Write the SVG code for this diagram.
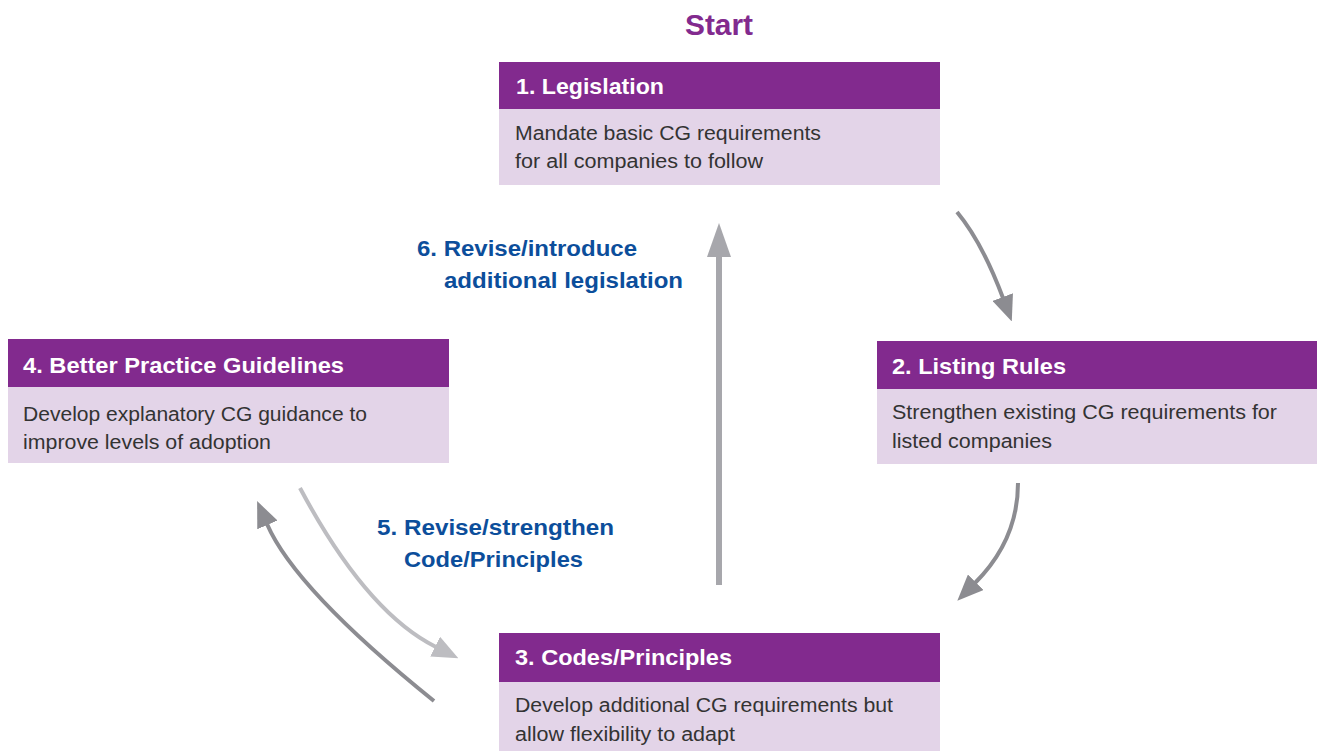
<svg xmlns="http://www.w3.org/2000/svg" width="1317" height="751" viewBox="0 0 1317 751">
<style>
.hd{fill:#822a8e}
.bd{fill:#e3d4e8}
.ht{font-family:"Liberation Sans",Arial,sans-serif;font-weight:bold;font-size:22px;fill:#ffffff}
.bt{font-family:"Liberation Sans",Arial,sans-serif;font-size:20px;fill:#333333}
.lb{font-family:"Liberation Sans",Arial,sans-serif;font-weight:bold;font-size:22px;fill:#0c4e9b}
.st{font-family:"Liberation Sans",Arial,sans-serif;font-weight:bold;font-size:29px;fill:#822a8e}
.dk{fill:none;stroke:#8c8c91;stroke-width:4}
.lt{fill:none;stroke:#bdbdc1;stroke-width:4}
.vt{fill:none;stroke:#a7a7ac;stroke-width:6}
</style>
<defs>
<marker id="ahd" markerUnits="userSpaceOnUse" viewBox="0 0 26 22" refX="1" refY="11" markerWidth="26" markerHeight="22" orient="auto"><path d="M0,0 L26,11 L0,22 z" fill="#8c8c91"/></marker>
<marker id="ahl" markerUnits="userSpaceOnUse" viewBox="0 0 26 22" refX="1" refY="11" markerWidth="26" markerHeight="22" orient="auto"><path d="M0,0 L26,11 L0,22 z" fill="#bdbdc1"/></marker>
<marker id="ahv" markerUnits="userSpaceOnUse" viewBox="0 0 34 24" refX="1" refY="12" markerWidth="34" markerHeight="24" orient="auto"><path d="M0,0 L34,12 L0,24 z" fill="#a7a7ac"/></marker>
</defs>
<rect width="1317" height="751" fill="#ffffff"/>
<text class="st" x="685" y="35" textLength="68" lengthAdjust="spacingAndGlyphs">Start</text>
<g id="connectors">
<path class="vt" d="M719,585 L719,256" marker-end="url(#ahv)"/>
<path class="dk" d="M957,212 Q982,242 1003,298" marker-end="url(#ahd)"/>
<path class="dk" d="M1018,483 Q1018,540 975,583" marker-end="url(#ahd)"/>
<path class="dk" d="M434,701 Q295,589 267,524" marker-end="url(#ahd)"/>
<path class="lt" d="M300,488 Q366,612 436,647" marker-end="url(#ahl)"/>
<text class="lb" x="417" y="256" textLength="220" lengthAdjust="spacingAndGlyphs">6. Revise/introduce</text>
<text class="lb" x="444" y="288" textLength="239" lengthAdjust="spacingAndGlyphs">additional legislation</text>
<text class="lb" x="377" y="535" textLength="237" lengthAdjust="spacingAndGlyphs">5. Revise/strengthen</text>
<text class="lb" x="404" y="567" textLength="179" lengthAdjust="spacingAndGlyphs">Code/Principles</text>
</g>
<g id="node1">
<rect class="bd" x="499" y="108" width="441" height="77"/>
<rect class="hd" x="499" y="62" width="441" height="47"/>
<text class="ht" x="516" y="94" textLength="148" lengthAdjust="spacingAndGlyphs">1. Legislation</text>
<text class="bt" x="515" y="140" textLength="306" lengthAdjust="spacingAndGlyphs">Mandate basic CG requirements</text>
<text class="bt" x="515" y="168" textLength="248" lengthAdjust="spacingAndGlyphs">for all companies to follow</text>
</g>
<g id="node2">
<rect class="bd" x="877" y="388" width="440" height="76"/>
<rect class="hd" x="877" y="341" width="440" height="48"/>
<text class="ht" x="892" y="374" textLength="174" lengthAdjust="spacingAndGlyphs">2. Listing Rules</text>
<text class="bt" x="892" y="419" textLength="385" lengthAdjust="spacingAndGlyphs">Strengthen existing CG requirements for</text>
<text class="bt" x="892" y="448" textLength="160" lengthAdjust="spacingAndGlyphs">listed companies</text>
</g>
<g id="node3">
<rect class="bd" x="499" y="682" width="441" height="69"/>
<rect class="hd" x="499" y="633" width="441" height="49"/>
<text class="ht" x="515" y="665" textLength="217" lengthAdjust="spacingAndGlyphs">3. Codes/Principles</text>
<text class="bt" x="515" y="712" textLength="378" lengthAdjust="spacingAndGlyphs">Develop additional CG requirements but</text>
<text class="bt" x="515" y="741" textLength="220" lengthAdjust="spacingAndGlyphs">allow flexibility to adapt</text>
</g>
<g id="node4">
<rect class="bd" x="8" y="387" width="441" height="76"/>
<rect class="hd" x="8" y="339" width="441" height="48"/>
<text class="ht" x="23" y="373" textLength="321" lengthAdjust="spacingAndGlyphs">4. Better Practice Guidelines</text>
<text class="bt" x="23" y="421" textLength="344" lengthAdjust="spacingAndGlyphs">Develop explanatory CG guidance to</text>
<text class="bt" x="23" y="449" textLength="248" lengthAdjust="spacingAndGlyphs">improve levels of adoption</text>
</g>
</svg>
